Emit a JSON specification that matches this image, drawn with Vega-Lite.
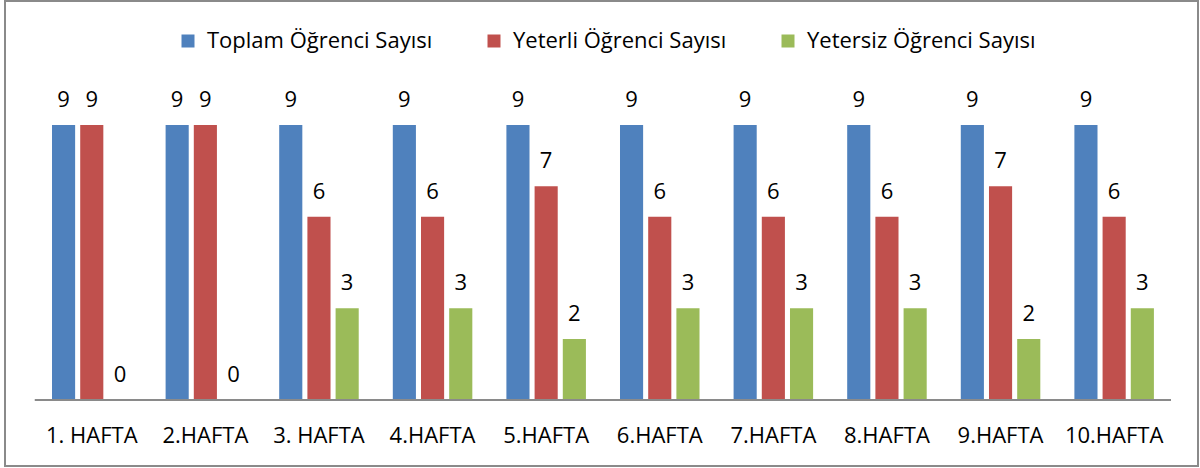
{
  "$schema": "https://vega.github.io/schema/vega-lite/v6.json",
  "width": 1193,
  "height": 465,
  "autosize": {"type": "none"},
  "padding": {"left": 5, "top": 1, "right": 2, "bottom": 2},
  "background": "white",
  "config": {
    "view": {"stroke": "#8a8a8a", "strokeWidth": 2},
    "font": "Open Sans"
  },
  "data": {
    "values": [
      {"hafta": "1. HAFTA", "seri": "Toplam Öğrenci Sayısı", "deger": 9},
      {"hafta": "1. HAFTA", "seri": "Yeterli Öğrenci Sayısı", "deger": 9},
      {"hafta": "1. HAFTA", "seri": "Yetersiz Öğrenci Sayısı", "deger": 0},
      {"hafta": "2.HAFTA", "seri": "Toplam Öğrenci Sayısı", "deger": 9},
      {"hafta": "2.HAFTA", "seri": "Yeterli Öğrenci Sayısı", "deger": 9},
      {"hafta": "2.HAFTA", "seri": "Yetersiz Öğrenci Sayısı", "deger": 0},
      {"hafta": "3. HAFTA", "seri": "Toplam Öğrenci Sayısı", "deger": 9},
      {"hafta": "3. HAFTA", "seri": "Yeterli Öğrenci Sayısı", "deger": 6},
      {"hafta": "3. HAFTA", "seri": "Yetersiz Öğrenci Sayısı", "deger": 3},
      {"hafta": "4.HAFTA", "seri": "Toplam Öğrenci Sayısı", "deger": 9},
      {"hafta": "4.HAFTA", "seri": "Yeterli Öğrenci Sayısı", "deger": 6},
      {"hafta": "4.HAFTA", "seri": "Yetersiz Öğrenci Sayısı", "deger": 3},
      {"hafta": "5.HAFTA", "seri": "Toplam Öğrenci Sayısı", "deger": 9},
      {"hafta": "5.HAFTA", "seri": "Yeterli Öğrenci Sayısı", "deger": 7},
      {"hafta": "5.HAFTA", "seri": "Yetersiz Öğrenci Sayısı", "deger": 2},
      {"hafta": "6.HAFTA", "seri": "Toplam Öğrenci Sayısı", "deger": 9},
      {"hafta": "6.HAFTA", "seri": "Yeterli Öğrenci Sayısı", "deger": 6},
      {"hafta": "6.HAFTA", "seri": "Yetersiz Öğrenci Sayısı", "deger": 3},
      {"hafta": "7.HAFTA", "seri": "Toplam Öğrenci Sayısı", "deger": 9},
      {"hafta": "7.HAFTA", "seri": "Yeterli Öğrenci Sayısı", "deger": 6},
      {"hafta": "7.HAFTA", "seri": "Yetersiz Öğrenci Sayısı", "deger": 3},
      {"hafta": "8.HAFTA", "seri": "Toplam Öğrenci Sayısı", "deger": 9},
      {"hafta": "8.HAFTA", "seri": "Yeterli Öğrenci Sayısı", "deger": 6},
      {"hafta": "8.HAFTA", "seri": "Yetersiz Öğrenci Sayısı", "deger": 3},
      {"hafta": "9.HAFTA", "seri": "Toplam Öğrenci Sayısı", "deger": 9},
      {"hafta": "9.HAFTA", "seri": "Yeterli Öğrenci Sayısı", "deger": 7},
      {"hafta": "9.HAFTA", "seri": "Yetersiz Öğrenci Sayısı", "deger": 2},
      {"hafta": "10.HAFTA", "seri": "Toplam Öğrenci Sayısı", "deger": 9},
      {"hafta": "10.HAFTA", "seri": "Yeterli Öğrenci Sayısı", "deger": 6},
      {"hafta": "10.HAFTA", "seri": "Yetersiz Öğrenci Sayısı", "deger": 3}
    ]
  },
  "layer": [
    {
      "encoding": {
        "x": {
          "field": "hafta", "type": "nominal", "sort": null,
          "scale": {"paddingInner": 0.3, "paddingOuter": 0.401, "align": 0.516},
          "axis": {
            "title": null, "orient": "bottom", "offset": -66,
            "domain": false, "ticks": false, "grid": false,
            "labelAngle": 0, "labelFontSize": 22, "labelColor": "#000000",
            "labelPadding": 25, "labelFont": "Open Sans"
          }
        },
        "xOffset": {
          "field": "seri", "type": "nominal", "sort": null,
          "scale": {"paddingInner": 0.18, "paddingOuter": 0}
        },
        "y": {
          "field": "deger", "type": "quantitative",
          "scale": {"domain": [-2.16, 13.06], "nice": false, "zero": false},
          "axis": null
        }
      },
      "layer": [
        {
          "mark": {"type": "bar"},
          "encoding": {
            "y2": {"datum": 0},
            "color": {
              "field": "seri", "type": "nominal", "sort": null,
              "scale": {
                "domain": ["Toplam Öğrenci Sayısı", "Yeterli Öğrenci Sayısı", "Yetersiz Öğrenci Sayısı"],
                "range": ["#4F81BD", "#C0504D", "#9BBB59"]
              },
              "legend": {
                "title": null, "orient": "none", "direction": "horizontal",
                "legendX": 172, "legendY": 29,
                "symbolType": "square", "symbolSize": 169, "symbolStrokeWidth": 0,
                "labelFontSize": 22, "labelFont": "Open Sans", "labelColor": "#000000",
                "columnPadding": 50, "labelOffset": 8, "labelLimit": 400
              }
            }
          }
        },
        {
          "mark": {"type": "text", "fontSize": 22, "font": "Open Sans", "color": "#000000", "baseline": "alphabetic", "dy": -18},
          "encoding": {
            "text": {"field": "deger", "type": "quantitative"}
          }
        }
      ]
    },
    {
      "mark": {"type": "rule", "color": "#8a8a8a", "strokeWidth": 2},
      "encoding": {
        "x": {"datum": 0, "type": "quantitative", "scale": {"domain": [-0.0264, 1.0238], "nice": false, "zero": false}, "axis": null},
        "x2": {"datum": 1},
        "y": {"datum": 0, "type": "quantitative"}
      }
    }
  ],
  "resolve": {"scale": {"x": "independent"}}
}
